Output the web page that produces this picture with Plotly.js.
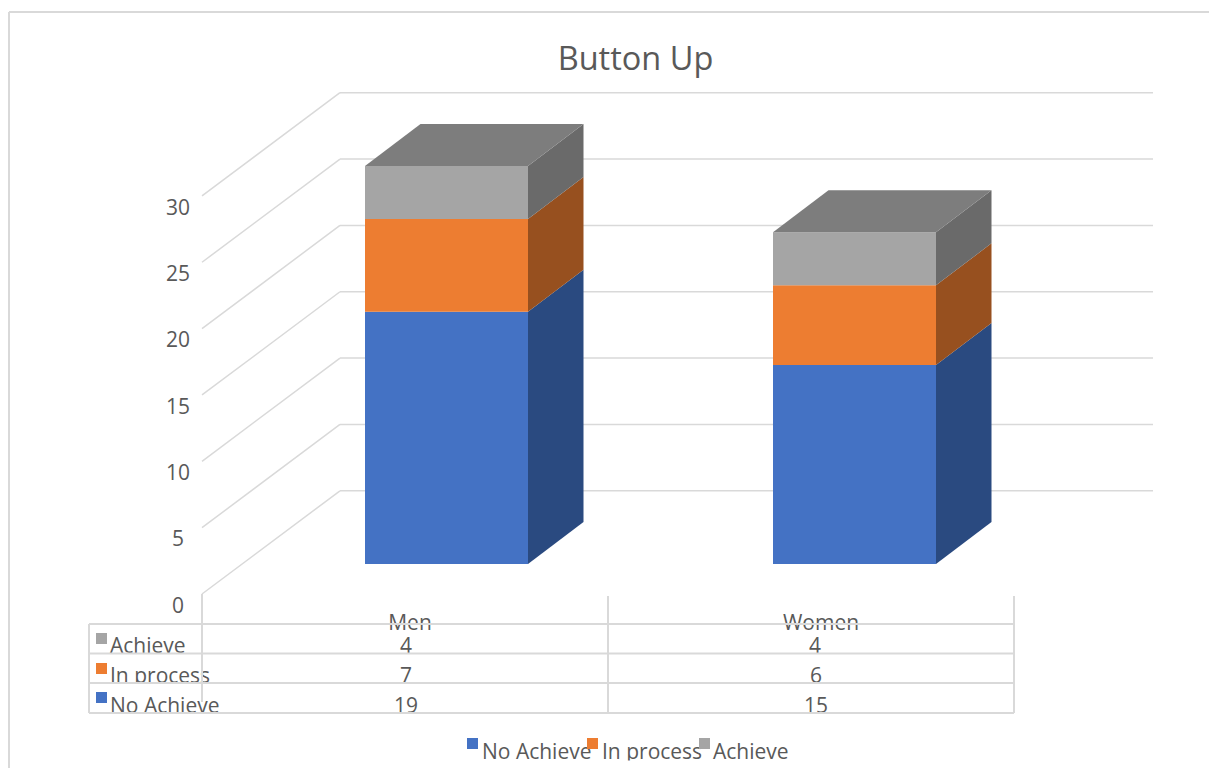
<!DOCTYPE html>
<html>
<head>
<meta charset="utf-8">
<script src="https://cdn.plot.ly/plotly-3.0.1.min.js"></script>
<style>html,body{margin:0;padding:0;background:#fff;overflow:hidden}</style>
</head>
<body>
<div id="chart" style="width:1209px;height:768px"></div>
<script>
// ---- data ----
const categories = ['Men', 'Women'];
const noAchieve = [19, 15];
const inProcess = [7, 6];
const achieve = [4, 4];
const valueTicks = [0, 5, 10, 15, 20, 25, 30];
const seriesNames = ['No Achieve', 'In process', 'Achieve'];
const frontColors = ['#4472C4', '#ED7D31', '#A5A5A5'];
const sideColors = ['#2A4A80', '#97501F', '#6A6A6A'];
const topColor = '#7D7D7D';
const textColor = '#595959';
const lineColor = '#D9D9D9';
const fontFamily = '"Open Sans","Noto Sans",sans-serif';
const labelSize = 21;

// ---- scales: one category is 406px, one value unit 13.27px ----
const CAT = 406, UNIT = 13.27, X0 = 202, Y0 = 594;
const X = p => -0.5 + (p - X0) / CAT;
const Y = p => (Y0 - p) / UNIT;
const dX = p => p / CAT, dY = p => p / UNIT;

const allSeries = [noAchieve, inProcess, achieve];
const barWidth = 163 / CAT;
const barStep = 408 / CAT;
const frontShiftX = dX(41.5), frontShiftY = dY(30);
const depthX = dX(55.5), depthY = dY(42);
const wallX = 138, wallY = 103.2;

const traces = [];
const none = {hoverinfo: 'skip', showlegend: false};

// bars: front faces
allSeries.forEach((vals, s) => {
  const bases = vals.map((_, i) => allSeries.slice(0, s).reduce((a, v) => a + v[i], 0) + frontShiftY);
  traces.push(Object.assign({
    type: 'bar', name: seriesNames[s],
    x: categories.map((_, i) => i * barStep + frontShiftX),
    y: vals, base: bases, width: barWidth,
    marker: {color: frontColors[s], line: {width: 0}}
  }, none));
});
// bars: right side faces
const poly = (xs, ys, color) => Object.assign({
  type: 'scatter', mode: 'lines', x: xs.concat(xs[0]), y: ys.concat(ys[0]),
  fill: 'toself', fillcolor: color, line: {width: 0, color: color}
}, none);
categories.forEach((_, i) => {
  const xr = i * barStep + frontShiftX + barWidth / 2, xl = xr - barWidth;
  let cum = frontShiftY;
  allSeries.forEach((vals, s) => {
    const lo = cum, hi = cum + vals[i];
    traces.push(poly([xr, xr + depthX, xr + depthX, xr], [lo, lo + depthY, hi + depthY, hi], sideColors[s]));
    cum = hi;
  });
  traces.push(poly([xl, xr, xr + depthX, xl + depthX], [cum, cum, cum + depthY, cum + depthY], topColor));
});

// texts
const textTrace = (xs, ys, txt, pos, size) => Object.assign({
  type: 'scatter', mode: 'text', x: xs, y: ys, text: txt, textposition: pos,
  textfont: {family: fontFamily, size: size || labelSize, color: textColor}, cliponaxis: false
}, none);

// value axis labels
traces.push(textTrace(valueTicks.map(() => X(178)), valueTicks.map(v => v - dY(13.5)), valueTicks.map(String), 'middle center'));

// table
const rowY = [648, 678, 708];          // Achieve, In process, No Achieve
const rows = [achieve, inProcess, noAchieve];
const rowNames = ['Achieve', 'In process', 'No Achieve'];
const rowColors = [frontColors[2], frontColors[1], frontColors[0]];
const valueX = [[406, 815], [406, 816], [406, 816]];
traces.push(textTrace([X(410), X(821)], [Y(624.5), Y(624.5)], categories, 'middle center'));
rows.forEach((vals, r) => {
  traces.push(textTrace(valueX[r].map(X), valueX[r].map(() => Y(rowY[r])), vals.map(String), 'middle center'));
});
traces.push(textTrace(rowNames.map(() => X(110)), rowY.map(Y), rowNames, 'middle right'));
traces.push(Object.assign({
  type: 'scatter', mode: 'markers', x: rowNames.map(() => X(101.5)),
  y: [Y(638.5), Y(668.5), Y(697.5)],
  marker: {symbol: 'square', size: 11, color: rowColors, line: {width: 0}}
}, none));

// legend
const legendSquares = [472.5, 592.5, 704.5];
const legendText = [482, 602, 713];
traces.push(textTrace(legendText.map(X), legendText.map(() => Y(753.5)), seriesNames, 'middle right'));
traces.push(Object.assign({
  type: 'scatter', mode: 'markers', x: legendSquares.map(X), y: legendSquares.map(() => Y(743.5)),
  marker: {symbol: 'square', size: 11, color: frontColors, line: {width: 0}}
}, none));

// the reference's text boxes clip the descenders
traces.push(poly([X(110), X(212), X(212), X(110)], [Y(684), Y(684), Y(690), Y(690)], '#FFFFFF'));
traces.push(poly([X(600), X(705), X(705), X(600)], [Y(760.5), Y(760.5), Y(768), Y(768)], '#FFFFFF'));

// ---- shapes ----
const shapes = [];
const seg = (x0, y0, x1, y1, layer, w) => shapes.push({
  type: 'line', xref: 'x', yref: 'y', layer: layer,
  x0: X(x0), y0: Y(y0), x1: X(x1), y1: Y(y1),
  line: {color: lineColor, width: w || 1.5}
});
// frame
seg(9, 12, 9, 768, 'below', 2);
seg(9, 12, 1209, 12, 'below', 2);
// walls: gridlines
valueTicks.forEach(v => {
  shapes.push({type: 'line', xref: 'x', yref: 'y', layer: 'below',
    x0: X(X0), y0: v, x1: X(X0 + wallX), y1: v + dY(wallY), line: {color: lineColor, width: 1.5}});
  shapes.push({type: 'line', xref: 'x', yref: 'y', layer: 'below',
    x0: X(X0 + wallX), y0: v + dY(wallY), x1: X(1153), y1: v + dY(wallY), line: {color: lineColor, width: 1.5}});
});
// table lines
[624, 653.5, 683, 713].forEach(y => seg(89, y, 1014, y, 'above', 2));
seg(89, 624, 89, 713, 'above', 2);
seg(202, 594, 202, 702, 'above', 2);
seg(608, 596, 608, 713, 'above', 2);
seg(1014, 596, 1014, 713, 'above', 2);

const layout = {
  width: 1209, height: 768,
  margin: {l: 0, r: 0, t: 0, b: 0, pad: 0},
  paper_bgcolor: '#FFFFFF', plot_bgcolor: '#FFFFFF',
  barmode: 'overlay', showlegend: false, hovermode: false,
  title: {text: 'Button Up', x: 635.5 / 1209, xanchor: 'center', xref: 'paper',
          y: 1 - 59 / 768, yanchor: 'middle', yref: 'container',
          font: {family: fontFamily, size: 32.5, color: textColor}},
  xaxis: {range: [X(0), X(1209)], visible: false, fixedrange: true},
  yaxis: {range: [Y(768), Y(0)], visible: false, fixedrange: true},
  shapes: shapes
};
Plotly.newPlot('chart', traces, layout, {displayModeBar: false, staticPlot: true});
</script>
</body>
</html>
